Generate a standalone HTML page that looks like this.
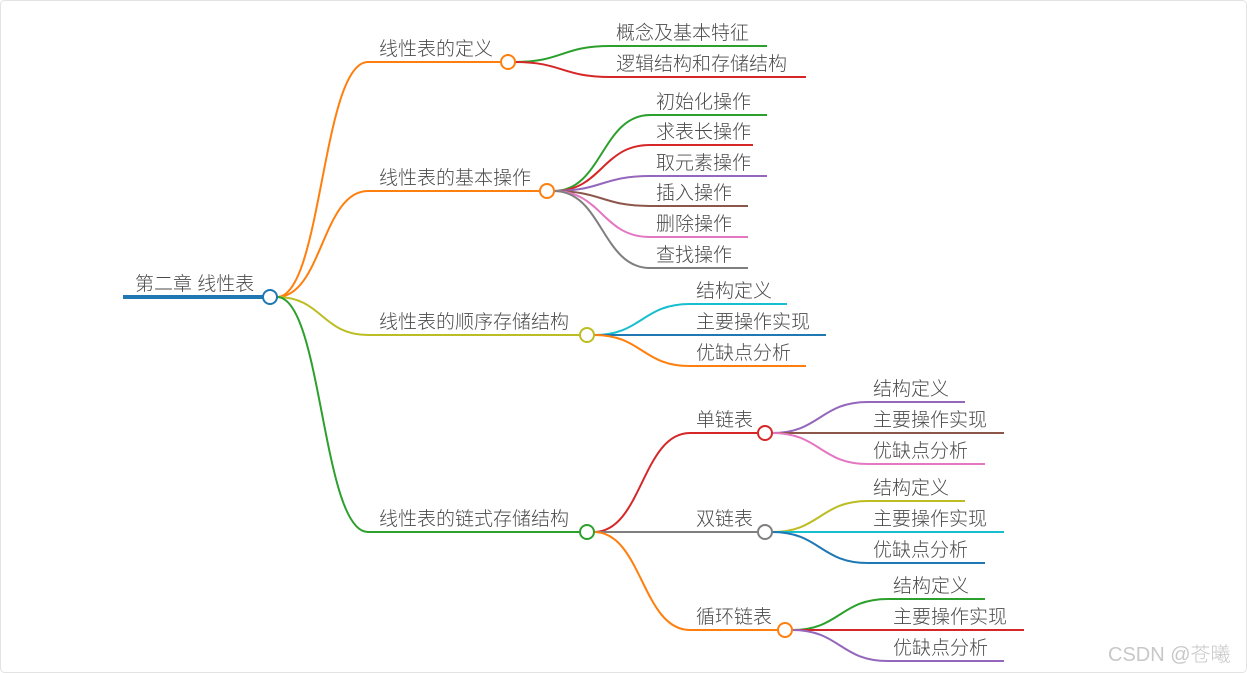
<!DOCTYPE html>
<html><head><meta charset="utf-8"><style>
html,body{margin:0;padding:0;background:#fff;}
svg{display:block}
text{font-family:"Liberation Sans","Noto Sans CJK SC",sans-serif;font-size:19px;fill:#4a4a4a;font-weight:300}
</style></head><body>
<svg width="1247" height="673" viewBox="0 0 1247 673" xmlns="http://www.w3.org/2000/svg">
<rect x="0.5" y="0.5" width="1246" height="672" rx="4" fill="#fff" stroke="#e3e3e3"/>
<g fill="none" stroke-width="2">
<path d="M277 297 C322 297 322 62 368 62 L500 62" stroke="#ff7f0e"/>
<path d="M277 297 C322 297 322 191 368 191 L539 191" stroke="#ff7f0e"/>
<path d="M277 297 C322 297 322 335 368 335 L579 335" stroke="#bcbd22"/>
<path d="M277 297 C322 297 322 532 368 532 L579 532" stroke="#2ca02c"/>
<path d="M515 62 C562 62 562 46 610 46 L767 46" stroke="#2ca02c"/>
<path d="M515 62 C562 62 562 77 610 77 L806 77" stroke="#d62728"/>
<path d="M554 191 C602 191 602 115 650 115 L767 115" stroke="#2ca02c"/>
<path d="M554 191 C602 191 602 145 650 145 L753 145" stroke="#d62728"/>
<path d="M554 191 C602 191 602 176 650 176 L767 176" stroke="#9467bd"/>
<path d="M554 191 C602 191 602 206 650 206 L748 206" stroke="#8c564b"/>
<path d="M554 191 C602 191 602 237 650 237 L748 237" stroke="#e377c2"/>
<path d="M554 191 C602 191 602 268 650 268 L748 268" stroke="#7f7f7f"/>
<path d="M594 335 C642 335 642 304 690 304 L787 304" stroke="#17becf"/>
<path d="M594 335 L826 335" stroke="#1f77b4"/>
<path d="M594 335 C642 335 642 366 690 366 L806 366" stroke="#ff7f0e"/>
<path d="M594 532 C642 532 642 433 690 433 L757 433" stroke="#d62728"/>
<path d="M594 532 L757 532" stroke="#7f7f7f"/>
<path d="M594 532 C642 532 642 630 690 630 L777 630" stroke="#ff7f0e"/>
<path d="M772 433 C820 433 820 402 868 402 L965 402" stroke="#9467bd"/>
<path d="M772 433 L1004 433" stroke="#8c564b"/>
<path d="M772 433 C820 433 820 464 868 464 L985 464" stroke="#e377c2"/>
<path d="M772 532 C820 532 820 501 868 501 L965 501" stroke="#bcbd22"/>
<path d="M772 532 L1004 532" stroke="#17becf"/>
<path d="M772 532 C820 532 820 563 868 563 L985 563" stroke="#1f77b4"/>
<path d="M792 630 C840 630 840 599 888 599 L985 599" stroke="#2ca02c"/>
<path d="M792 630 L1024 630" stroke="#d62728"/>
<path d="M792 630 C840 630 840 661 888 661 L1004 661" stroke="#9467bd"/>
</g>
<line x1="123" y1="297" x2="263" y2="297" stroke="#1f77b4" stroke-width="4"/>
<g fill="#fff" stroke-width="2">
<circle cx="270" cy="297" r="7" stroke="#1f77b4"/>
<circle cx="508" cy="62" r="7" stroke="#ff7f0e"/>
<circle cx="547" cy="191" r="7" stroke="#ff7f0e"/>
<circle cx="587" cy="335" r="7" stroke="#bcbd22"/>
<circle cx="587" cy="532" r="7" stroke="#2ca02c"/>
<circle cx="765" cy="433" r="7" stroke="#d62728"/>
<circle cx="765" cy="532" r="7" stroke="#7f7f7f"/>
<circle cx="785" cy="630" r="7" stroke="#ff7f0e"/>
</g>
<text x="135" y="290">第二章 线性表</text>
<text x="379" y="55">线性表的定义</text>
<text x="379" y="184">线性表的基本操作</text>
<text x="379" y="328">线性表的顺序存储结构</text>
<text x="379" y="525">线性表的链式存储结构</text>
<text x="616" y="39">概念及基本特征</text>
<text x="616" y="70">逻辑结构和存储结构</text>
<text x="656" y="108">初始化操作</text>
<text x="656" y="138">求表长操作</text>
<text x="656" y="169">取元素操作</text>
<text x="656" y="199">插入操作</text>
<text x="656" y="230">删除操作</text>
<text x="656" y="261">查找操作</text>
<text x="696" y="297">结构定义</text>
<text x="696" y="328">主要操作实现</text>
<text x="696" y="359">优缺点分析</text>
<text x="696" y="426">单链表</text>
<text x="696" y="525">双链表</text>
<text x="696" y="623">循环链表</text>
<text x="873" y="395">结构定义</text>
<text x="873" y="426">主要操作实现</text>
<text x="873" y="457">优缺点分析</text>
<text x="873" y="494">结构定义</text>
<text x="873" y="525">主要操作实现</text>
<text x="873" y="556">优缺点分析</text>
<text x="893" y="592">结构定义</text>
<text x="893" y="623">主要操作实现</text>
<text x="893" y="654">优缺点分析</text>
<text x="1108" y="661" style="font-size:20px;fill:#c8c8c8">CSDN @苍曦</text>
</svg>
</body></html>
